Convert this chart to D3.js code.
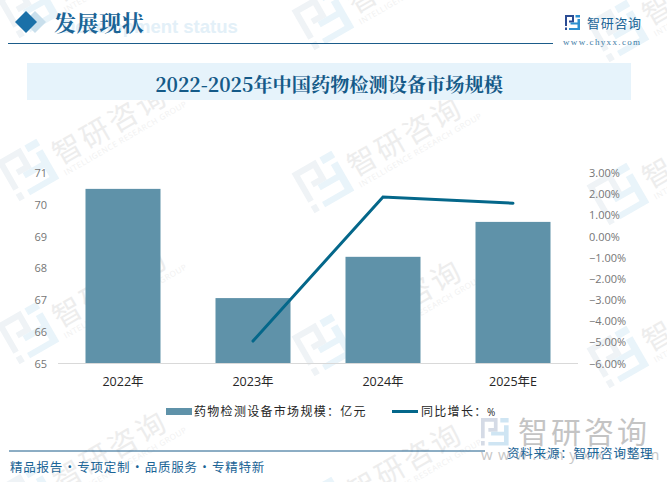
<!DOCTYPE html>
<html>
<head>
<meta charset="utf-8">
<script src="https://cdn.jsdelivr.net/npm/d3@7"></script>
<style>
html, body { margin: 0; padding: 0; background: #fff; }
svg { display: block; }
</style>
</head>
<body>
<div id="chart"></div>
<script>
// chart data
const categories = ['2022年', '2023年', '2024年', '2025年E'];
const marketSize = [70.5, 67.06, 68.36, 69.46];
const growth = [null, -4.94, 1.87, 1.57];
const leftTicks = [65, 66, 67, 68, 69, 70, 71];
const rightTicks = [3, 2, 1, 0, -1, -2, -3, -4, -5, -6];
const barName = '药物检测设备市场规模：亿元';
const lineName = '同比增长：';

const width = 667, height = 482;
const cjk = '"Noto Sans CJK SC", sans-serif';
const serif = '"Noto Serif CJK SC", "Noto Sans CJK SC", serif';
const latin = '"Open Sans", "Noto Sans CJK SC", sans-serif';

const svg = d3.select('#chart').append('svg')
    .attr('width', width).attr('height', height);

// logo in a 30x30 box, used by the header, the footer and the watermarks
function logo(g, dark, light) {
    g.append('path').attr('fill', dark)
        .attr('d', 'M0 0H18V15H8V11H14V4H4V22H0ZM0 25H4V30H0Z');
    g.append('path').attr('fill', light)
        .attr('d', 'M21 0H30V5H21ZM25 8H30V30H8V26H25V19H11V15H25Z');
}

// watermarks: three columns, repeated down the page
const wm = svg.append('g');
d3.range(4).forEach(r => d3.range(3).forEach(c => {
    const g = wm.append('g')
        .attr('transform', `translate(${28 + 295 * c},${7 + 163 * r + 12 * c}) rotate(-30)`);
    logo(g.append('g').attr('transform', 'translate(-23,-23) scale(1.53)'), '#eff3f6', '#e9f4fa');
    g.append('text').attr('x', 30).attr('y', 12)
        .attr('font-family', cjk).attr('font-size', 29).attr('letter-spacing', 3)
        .attr('fill', '#ededed').text('智研咨询');
    g.append('text').attr('x', 30).attr('y', 24)
        .attr('font-family', latin).attr('font-size', 8).attr('letter-spacing', 0.6)
        .attr('fill', '#f1f1f1').text('INTELLIGENCE RESEARCH GROUP');
}));

// header
svg.append('text').attr('x', 62).attr('y', 33)
    .attr('font-family', '"Liberation Sans", sans-serif').attr('font-weight', 'bold').attr('font-size', 18.5)
    .attr('fill', '#e3f0f8').text('Development status');
svg.append('path').attr('d', 'M35 11L46 22L35 33L24 22Z').attr('fill', '#c9dfec');
svg.append('path').attr('d', 'M26 11L37 22L26 33L15 22Z').attr('fill', '#1a70a8');
svg.append('text').attr('x', 54).attr('y', 31)
    .attr('font-family', serif).attr('font-weight', 'bold').attr('font-size', 22).attr('letter-spacing', 0.6)
    .attr('fill', '#1a6496').text('发展现状');
svg.append('line').attr('x1', 8).attr('x2', 553).attr('y1', 43.5).attr('y2', 43.5)
    .attr('stroke', '#1b5c8a').attr('stroke-width', 1);

logo(svg.append('g').attr('transform', 'translate(565,15) scale(0.5)'), '#2b4c94', '#2b8fd0');
svg.append('text').attr('x', 587).attr('y', 28)
    .attr('font-family', cjk).attr('font-size', 13).attr('letter-spacing', 0.7)
    .attr('fill', '#1a6496').text('智研咨询');
svg.append('text').attr('x', 563).attr('y', 45)
    .attr('font-family', '"Liberation Serif", serif').attr('font-size', 9).attr('letter-spacing', 1.35)
    .attr('fill', '#3f7da6').text('www.chyxx.com');

// title
svg.append('rect').attr('x', 27).attr('y', 63).attr('width', 604).attr('height', 37).attr('fill', '#e6f3fb');
svg.append('text').attr('x', 329).attr('y', 92).attr('text-anchor', 'middle')
    .attr('font-family', serif).attr('font-weight', 'bold').attr('font-size', 19.2)
    .attr('fill', '#155a88').text('2022-2025年中国药物检测设备市场规模');

// scales
const x = d3.scaleBand().domain(categories).range([58, 578]).paddingInner(0.423).paddingOuter(0.2115);
const yLeft = d3.scaleLinear().domain([65, 71]).range([363.5, 173]);
const yRight = d3.scaleLinear().domain([-6, 3]).range([363.5, 173]);

// bars
svg.append('g').selectAll('rect')
    .data(marketSize)
    .join('rect')
    .attr('x', (d, i) => x(categories[i]))
    .attr('y', d => yLeft(d))
    .attr('width', x.bandwidth())
    .attr('height', d => yLeft(65) - yLeft(d))
    .attr('fill', '#5f92a9');

// baseline
svg.append('line').attr('x1', 58).attr('x2', 578).attr('y1', 363.5).attr('y2', 363.5)
    .attr('stroke', '#d9d9d9').attr('stroke-width', 1);

// growth line
const line = d3.line()
    .defined(d => d !== null)
    .x((d, i) => x(categories[i]) + x.bandwidth() / 2)
    .y(d => yRight(d));
svg.append('path').datum(growth)
    .attr('d', line)
    .attr('fill', 'none')
    .attr('stroke', '#04678a')
    .attr('stroke-width', 3)
    .attr('stroke-linecap', 'round');

// axes
const axisLeft = d3.axisLeft(yLeft).tickValues(leftTicks).tickSize(0).tickPadding(0).tickFormat(d3.format('d'));
const axisRight = d3.axisRight(yRight).tickValues(rightTicks).tickSize(0).tickPadding(0)
    .tickFormat(d => d3.format('.2f')(d) + '%');
const axisBottom = d3.axisBottom(x).tickSize(0).tickPadding(0);

const gl = svg.append('g').attr('transform', 'translate(47,0)').call(axisLeft);
const gr = svg.append('g').attr('transform', 'translate(589,0)').call(axisRight);
const gb = svg.append('g').attr('transform', 'translate(0,377)').call(axisBottom);
[gl, gr, gb].forEach(g => {
    g.select('.domain').remove();
    g.selectAll('text').attr('font-family', latin).attr('font-size', 11).attr('fill', '#767676');
});
gb.selectAll('text').attr('font-size', 12.5).attr('fill', '#262626');

// legend
svg.append('rect').attr('x', 166).attr('y', 408).attr('width', 26).attr('height', 7).attr('fill', '#5f92a9');
svg.append('text').attr('x', 194).attr('y', 415.5)
    .attr('font-family', cjk).attr('font-size', 12).attr('letter-spacing', 1.3)
    .attr('fill', '#262626').text(barName);
svg.append('line').attr('x1', 392).attr('x2', 418).attr('y1', 411.5).attr('y2', 411.5)
    .attr('stroke', '#04678a').attr('stroke-width', 3);
svg.append('text').attr('x', 421).attr('y', 415.5)
    .attr('font-family', cjk).attr('font-size', 12).attr('letter-spacing', 1.3)
    .attr('fill', '#262626').text(lineName);
svg.append('text').attr('x', 487).attr('y', 415.5)
    .attr('font-family', latin).attr('font-size', 10)
    .attr('fill', '#262626').text('%');

// footer
logo(svg.append('g').attr('transform', 'translate(481,418) scale(0.92)'), '#d5dbe6', '#cfe5f3');
svg.append('text').attr('x', 518).attr('y', 443)
    .attr('font-family', cjk).attr('font-size', 30).attr('letter-spacing', 3)
    .attr('fill', '#c4c4c4').text('智研咨询');
svg.append('text').attr('x', 481).attr('y', 460)
    .attr('font-family', latin).attr('font-size', 15).attr('letter-spacing', 5.5)
    .attr('fill', '#c8c8c8').text('www.chyxx.com');
svg.append('line').attr('x1', 9).attr('x2', 485).attr('y1', 451).attr('y2', 451)
    .attr('stroke', '#1b5c8a').attr('stroke-width', 1);
svg.append('text').attr('x', 507).attr('y', 458)
    .attr('font-family', cjk).attr('font-size', 12.5).attr('letter-spacing', 0.8)
    .attr('fill', '#1a6496').text('资料来源：智研咨询整理');
svg.append('text').attr('x', 10).attr('y', 471.5)
    .attr('font-family', cjk).attr('font-size', 12.5).attr('letter-spacing', 0.75).attr('word-spacing', -3)
    .attr('fill', '#1a6496').text('精品报告 · 专项定制 · 品质服务 · 专精特新');
</script>
</body>
</html>
